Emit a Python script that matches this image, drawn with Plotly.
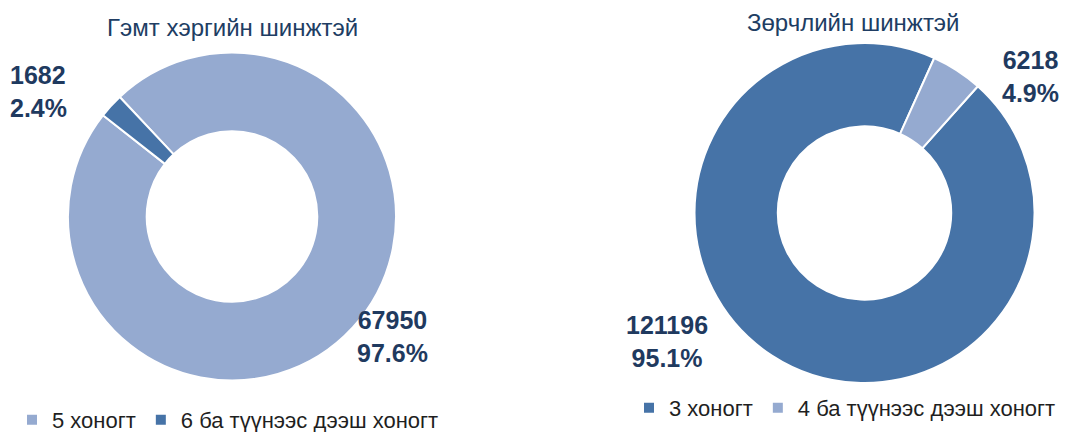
import plotly.graph_objects as go

# ---- data ----
left_title = "Гэмт хэргийн шинжтэй"
left_labels = ["5 хоногт", "6 ба түүнээс дээш хоногт"]
left_values = [67950, 1682]
left_colors = ["#95AAD0", "#4673A7"]

right_title = "Зөрчлийн шинжтэй"
right_labels = ["3 хоногт", "4 ба түүнээс дээш хоногт"]
right_values = [121196, 6218]
right_colors = ["#4673A7", "#95AAD0"]

W, H = 1080, 432
FONT = "Arial, Liberation Sans, sans-serif"
LABEL_COLOR = "#1F3A5F"
TITLE_COLOR = "#203D63"


def px(x):
    return x / W


def py(y):
    return 1 - y / H


fig = go.Figure()

fig.add_trace(go.Pie(
    labels=left_labels, values=left_values, sort=False, direction="clockwise",
    rotation=-43.2, hole=0.52, textinfo="none", hoverinfo="label+value+percent",
    marker=dict(colors=left_colors, line=dict(color="white", width=2)),
    domain=dict(x=[px(232 - 164), px(232 + 164)], y=[py(216.5 + 164), py(216.5 - 164)]),
    legend="legend",
))

fig.add_trace(go.Pie(
    labels=right_labels, values=right_values, sort=False, direction="clockwise",
    rotation=41.8, hole=0.51, textinfo="none", hoverinfo="label+value+percent",
    marker=dict(colors=right_colors, line=dict(color="white", width=2)),
    domain=dict(x=[px(864.5 - 170), px(864.5 + 170)], y=[py(213 + 170), py(213 - 170)]),
    legend="legend2",
))


def pct(v, vals):
    return f"{100 * v / sum(vals):.1f}%"


def lab(v, vals):
    return f"<b>{v}</b><br><b>{pct(v, vals)}</b>"


label_font = dict(size=25, color=LABEL_COLOR, family=FONT)
title_font = dict(size=24, color=TITLE_COLOR, family=FONT)

annotations = [
    dict(text=left_title, x=px(232), y=py(28), font=title_font),
    dict(text=right_title, x=px(853), y=py(23), font=title_font),
    dict(text=lab(left_values[1], left_values), x=px(8), y=py(91),
         xanchor="left", align="left", font=label_font),
    dict(text=lab(left_values[0], left_values), x=px(392), y=py(336),
         align="center", font=label_font),
    dict(text=lab(right_values[1], right_values), x=px(1030), y=py(76),
         align="center", font=label_font),
    dict(text=lab(right_values[0], right_values), x=px(667), y=py(341),
         align="center", font=label_font),
]
for a in annotations:
    a.setdefault("xref", "paper")
    a.setdefault("yref", "paper")
    a.setdefault("showarrow", False)
    a.setdefault("xanchor", "center")
    a.setdefault("yanchor", "middle")

legend_font = dict(size=22, color="#1F1F1F", family=FONT)

fig.update_layout(
    width=W, height=H,
    margin=dict(l=0, r=0, t=0, b=0, autoexpand=False),
    paper_bgcolor="white", plot_bgcolor="white",
    font=dict(family=FONT, size=20, color="#262626"),
    annotations=annotations,
    showlegend=True,
    legend=dict(orientation="h", x=px(12), y=py(420), xanchor="left", yanchor="middle",
                font=legend_font, bgcolor="rgba(0,0,0,0)"),
    legend2=dict(orientation="h", x=px(629), y=py(408), xanchor="left", yanchor="middle",
                 font=legend_font, bgcolor="rgba(0,0,0,0)"),
)

fig.write_html(
    "out.html",
    config={"displayModeBar": False},
    post_script="document.body.style.margin='0px';document.body.style.overflow='hidden';",
)
